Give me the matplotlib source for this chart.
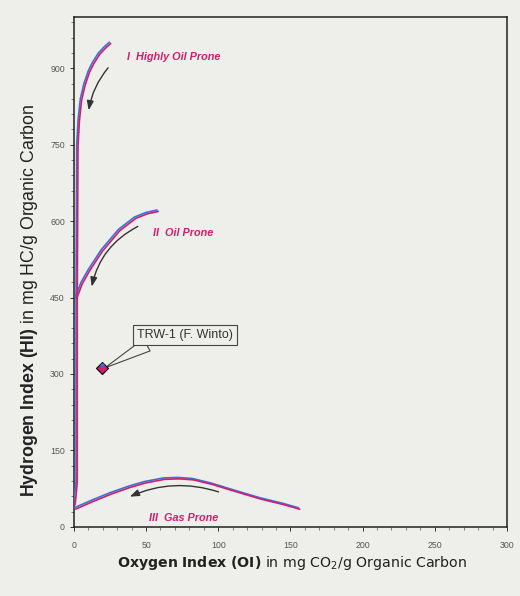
import matplotlib
matplotlib.use("Agg")
import matplotlib.pyplot as plt
import matplotlib.transforms as mtransforms
from matplotlib.ticker import MultipleLocator

plt.rcParams['mathtext.fontset'] = 'custom'
plt.rcParams['mathtext.rm'] = 'Liberation Sans'
plt.rcParams['mathtext.bf'] = 'Liberation Sans:bold'
plt.rcParams['mathtext.it'] = 'Liberation Sans:italic'

# kerogen evolution paths
oi_I = [0, 1.5, 1.5, 2, 3, 4.5, 7, 10, 13, 17, 21, 25]
hi_I = [45, 90, 450, 750, 800, 840, 870, 895, 912, 930, 942, 952]

oi_II = [1, 5, 10, 19, 31, 42, 50, 58]
hi_II = [450, 480, 505, 544, 584, 608, 617, 622]

oi_III = [0, 12, 25, 38, 49, 62, 72, 82, 95, 110, 129, 145, 156]
hi_III = [37, 52, 67, 80, 89, 96, 97, 95, 86, 73, 57, 46, 37]

# sample
sample_name = "TRW-1 (F. Winto)"
sample_oi = [19.5]
sample_hi = [312]

type_labels = ["I  Highly Oil Prone", "II  Oil Prone", "III  Gas Prone"]
label_pos = [(37, 923), (55, 576), (52, 18)]
# arrows: (start, end, rad)
arrows = [((25, 905), (10, 812), 0.15),
          ((46, 592), (12, 466), 0.25),
          ((102, 67), (37, 57), 0.2)]

bg = '#eeeeea'
blue = '#3f6fd6'
mag = '#cf1f6e'

fig = plt.figure(figsize=(5.2, 5.96), dpi=100, facecolor=bg)
ax = fig.add_axes([0.142, 0.116, 0.833, 0.855], facecolor=bg)

shift = mtransforms.ScaledTranslation(0.9 / 72, -1.0 / 72, fig.dpi_scale_trans)
for xs, ys in [(oi_I, hi_I), (oi_II, hi_II), (oi_III, hi_III)]:
    ax.plot(xs, ys, color=blue, lw=1.2, solid_capstyle='butt', zorder=3)
    ax.plot(xs, ys, color=mag, lw=1.2, solid_capstyle='butt', zorder=4,
            transform=ax.transData + shift)

for lab, (x, y) in zip(type_labels, label_pos):
    ax.text(x, y, lab, color=mag, fontsize=7.8, fontweight='bold',
            style='italic', family='Liberation Sans', va='center')

for (x0, y0), (x1, y1), rad in arrows:
    ax.annotate('', xy=(x1, y1), xytext=(x0, y0),
                arrowprops=dict(arrowstyle='-|>,head_length=0.55,head_width=0.2',
                                color='#333333', lw=1.0,
                                connectionstyle='arc3,rad=%s' % rad))

ax.plot(sample_oi, sample_hi, marker='D', ms=6, mfc=mag, mec='black',
        mew=0.8, ls='none', zorder=5)
ax.plot(sample_oi, [sample_hi[0] + 6], marker='o', ms=3, mfc=blue,
        mec='none', ls='none', zorder=6)
ax.annotate(sample_name, xy=(sample_oi[0] + 2, sample_hi[0]), xytext=(77, 377),
            fontsize=9, family='Liberation Sans', color='#333333',
            ha='center', va='center',
            bbox=dict(boxstyle='square,pad=0.3', fc=bg, ec='#444444', lw=0.8),
            arrowprops=dict(arrowstyle='wedge,tail_width=1.1', fc=bg,
                            ec='#444444', lw=0.8, relpos=(0.18, 0.0),
                            shrinkA=0, shrinkB=0))

ax.set_xlim(0, 300)
ax.set_ylim(0, 1000)
ax.set_xticks([0, 50, 100, 150, 200, 250, 300])
ax.set_yticks([0, 150, 300, 450, 600, 750, 900])
ax.xaxis.set_minor_locator(MultipleLocator(10))
ax.yaxis.set_minor_locator(MultipleLocator(30))
ax.tick_params(which='major', length=3, width=0.7, color='#333333',
               labelsize=6.3, labelcolor='#555555')
ax.tick_params(axis='x', which='major', pad=7)
ax.tick_params(which='minor', length=2, width=0.5, color='#555555')
for lab in ax.get_xticklabels() + ax.get_yticklabels():
    lab.set_family('Liberation Sans')
for sp in ax.spines.values():
    sp.set_linewidth(1.1)
    sp.set_color('#222222')

fig.text(292 / 520, 1 - 563 / 596,
         r"$\mathbf{Oxygen\ Index\ (OI)}$ in mg CO$_2$/g Organic Carbon",
         fontsize=10.2, family='DejaVu Sans', math_fontfamily='dejavusans',
         color='#222222', ha='center', va='center')
fig.text(30 / 520, 1 - 300 / 596,
         r"$\mathbf{Hydrogen\ Index\ (HI)}$ in mg HC/g Organic Carbon",
         fontsize=12.8, family='Liberation Sans', math_fontfamily='custom',
         color='#222222', ha='center', va='center', rotation=90)

fig.savefig('out.png', dpi=100, facecolor=bg)
